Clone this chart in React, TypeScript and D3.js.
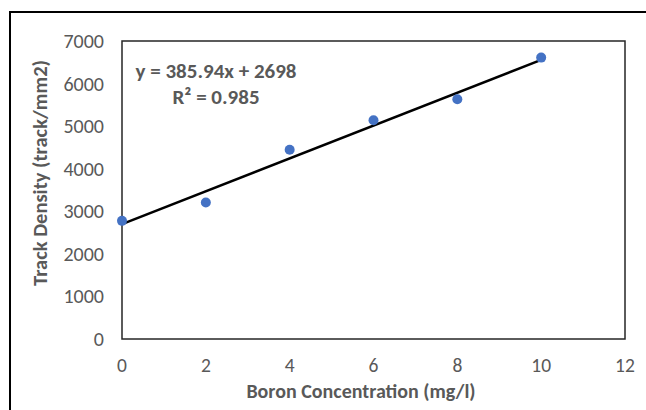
import React from "react";
import * as d3 from "d3";

// boron concentration (mg/l) vs track density (track/mm2)
const concentrations = [0, 2, 4, 6, 8, 10];
const densities = [2775, 3205, 4445, 5140, 5630, 6610];
const xTicks = [0, 2, 4, 6, 8, 10, 12];
const yTicks = [0, 1000, 2000, 3000, 4000, 5000, 6000, 7000];
const slope = 385.94;
const intercept = 2698;
const equationLabel = "y = 385.94x + 2698";
const r2Label = "R² = 0.985";

const W = 646;
const H = 410;
const margin = { left: 122, right: 21, top: 41, bottom: 71 };
const FONT = "Carlito, Calibri, Lato, 'Open Sans', sans-serif";
const GREY = "#595959";

export default function App() {
  const x = d3
    .scaleLinear()
    .domain([0, 12])
    .range([margin.left, W - margin.right]);
  const y = d3
    .scaleLinear()
    .domain([0, 7000])
    .range([H - margin.bottom, margin.top]);

  const trend = d3
    .line<number>()
    .x((d) => x(d))
    .y((d) => y(slope * d + intercept));

  return (
    <svg
      width={W}
      height={H}
      style={{ position: "absolute", left: 0, top: 0, background: "#fff" }}
      fontFamily={FONT}
    >
      {/* outer chart frame, cut off on right and bottom */}
      <rect x={10} y={12} width={W} height={H} fill="none" stroke="#000" strokeWidth={2} />

      {/* plot area border */}
      <rect
        x={x(0)}
        y={y(7000)}
        width={x(12) - x(0)}
        height={y(0) - y(7000)}
        fill="none"
        stroke="#262626"
        strokeWidth={1.5}
      />

      {yTicks.map((t) => (
        <text
          key={"y" + t}
          x={x(0) - 18}
          y={y(t)}
          dy="0.35em"
          textAnchor="end"
          fontSize={20}
          fill={GREY}
        >
          {t}
        </text>
      ))}
      {xTicks.map((t) => (
        <text
          key={"x" + t}
          x={x(t)}
          y={y(0) + 26}
          dy="0.35em"
          textAnchor="middle"
          fontSize={19.5}
          fill={GREY}
        >
          {t}
        </text>
      ))}

      <text
        x={361}
        y={391}
        dy="0.35em"
        textAnchor="middle"
        fontSize={20}
        fontWeight="bold"
        fill={GREY}
      >
        Boron Concentration (mg/l)
      </text>
      <text
        transform={`translate(40,173) rotate(-90)`}
        dy="0.35em"
        textAnchor="middle"
        fontSize={20.5}
        fontWeight="bold"
        fill={GREY}
      >
        Track Density (track/mm2)
      </text>

      <path d={trend([0, 10]) || ""} fill="none" stroke="#000" strokeWidth={2.5} />

      {concentrations.map((c, i) => (
        <circle key={c} cx={x(c)} cy={y(densities[i])} r={5} fill="#4472C4" />
      ))}

      <text x={216} y={71} dy="0.35em" textAnchor="middle" fontSize={21} fontWeight="bold" fill={GREY}>
        {equationLabel}
      </text>
      <text x={216} y={97} dy="0.35em" textAnchor="middle" fontSize={21} fontWeight="bold" fill={GREY}>
        {r2Label}
      </text>
    </svg>
  );
}
